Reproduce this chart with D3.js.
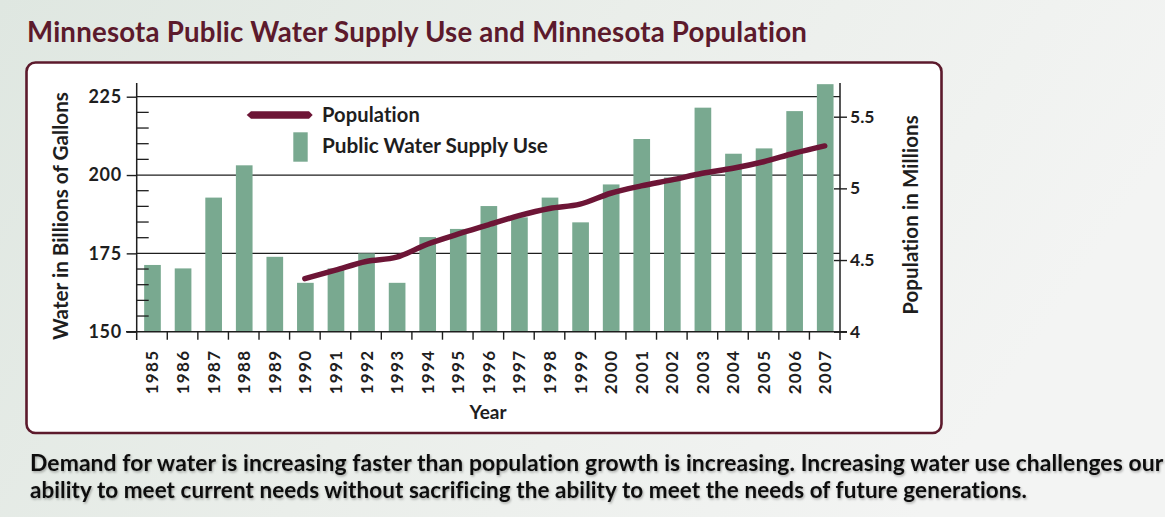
<!DOCTYPE html>
<html>
<head>
<meta charset="utf-8">
<script src="https://cdn.jsdelivr.net/npm/d3@7/dist/d3.min.js"></script>
<style>
  html, body { margin: 0; padding: 0; background: #e9eee9; }
  svg { display: block; }
  text { font-family: Lato, "Open Sans", "DejaVu Sans", sans-serif; font-variant-ligatures: none; font-feature-settings: "liga" 0, "clig" 0; }
</style>
</head>
<body>
<svg id="chart" width="1165" height="517"></svg>
<script>
// ---- data ----
const years = ["1985","1986","1987","1988","1989","1990","1991","1992","1993","1994","1995","1996",
               "1997","1998","1999","2000","2001","2002","2003","2004","2005","2006","2007"];
// public water supply use, billions of gallons
const waterUse = [171.3, 170.2, 192.8, 203.1, 173.9, 165.6, 170.2, 175.0, 165.6, 180.2, 182.8, 190.1,
                  186.5, 192.8, 184.9, 197.0, 211.5, 199.2, 221.5, 206.8, 208.5, 220.4, 229.0];
// population, millions
const popYears = ["1990","1991","1992","1993","1994","1995","1996","1997","1998","1999","2000",
                  "2001","2002","2003","2004","2005","2006","2007"];
const population = [4.37, 4.43, 4.49, 4.52, 4.61, 4.68, 4.745, 4.81, 4.86, 4.89, 4.966,
                    5.017, 5.059, 5.105, 5.14, 5.186, 5.245, 5.296];
const leftTicks = [150, 175, 200, 225];
const leftMinor = d3.range(150, 230, 5);
const rightTicks = [4, 4.5, 5, 5.5];

const titleText = "Minnesota Public Water Supply Use and Minnesota Population";
const captionLines = [
  "Demand for water is increasing faster than population growth is increasing. Increasing water use challenges our",
  "ability to meet current needs without sacrificing the ability to meet the needs of future generations."
];

// ---- styles ----
const maroon = "#5c1a2c";
const lineColor = "#6d1536";
const barColor = "#79a990";
const ink = "#1e1e1e";

const svg = d3.select("#chart");
const defs = svg.append("defs");

const bg = defs.append("linearGradient").attr("id", "bg").attr("x1", 0).attr("y1", 0).attr("x2", 1).attr("y2", 0.3);
bg.append("stop").attr("offset", 0).attr("stop-color", "#dfe7e1");
bg.append("stop").attr("offset", 0.5).attr("stop-color", "#eaeeea");
bg.append("stop").attr("offset", 1).attr("stop-color", "#f3f4f3");

const shadow = defs.append("filter").attr("id", "soft").attr("x", "-5%").attr("y", "-30%").attr("width", "110%").attr("height", "160%");
shadow.append("feDropShadow").attr("dx", 1).attr("dy", 1.5).attr("stdDeviation", 1.2)
  .attr("flood-color", "#000").attr("flood-opacity", 0.3);

svg.append("rect").attr("width", 1165).attr("height", 517).attr("fill", "url(#bg)");

// fit a text element to a given width by adjusting its font size
function fitWidth(sel, target) {
  const node = sel.node();
  const size = parseFloat(sel.attr("font-size"));
  const w = node.getComputedTextLength();
  sel.attr("font-size", (size * target / w).toFixed(2));
}

// ---- title ----
const title = svg.append("text")
  .attr("x", 27).attr("y", 42)
  .attr("font-size", 26).attr("font-weight", 700)
  .attr("letter-spacing", 0.2)
  .attr("fill", maroon)
  .text(titleText);
fitWidth(title, 781);

// ---- panel ----
svg.append("rect")
  .attr("x", 26.5).attr("y", 62.5).attr("width", 915).attr("height", 370.5)
  .attr("rx", 9).attr("ry", 9)
  .attr("fill", "#ffffff").attr("stroke", maroon).attr("stroke-width", 2.6);

// ---- scales ----
const x = d3.scaleBand().domain(years).range([136.7, 840]).padding(0);
const yL = d3.scaleLinear().domain([150, 225]).range([331.7, 96.7]);
const yR = d3.scaleLinear().domain([4, 5.5]).range([331.7, 116.7]);
const barW = x.bandwidth() * 0.545;

// gridlines at major left ticks
svg.append("g").selectAll("line").data(leftTicks.filter(d => d > 150)).join("line")
  .attr("x1", x.range()[0]).attr("x2", x.range()[1])
  .attr("y1", d => yL(d)).attr("y2", d => yL(d))
  .attr("stroke", ink).attr("stroke-width", 1.3);

// bars
svg.append("g").selectAll("rect").data(years).join("rect")
  .attr("x", (d, i) => x(d) + (x.bandwidth() - barW) / 2 + 0.5)
  .attr("width", barW)
  .attr("y", (d, i) => yL(waterUse[i]))
  .attr("height", (d, i) => yL(150) - yL(waterUse[i]))
  .attr("fill", barColor);

// ---- left axis ----
const gL = svg.append("g").attr("transform", `translate(${x.range()[0]},0)`);
gL.call(d3.axisLeft(yL).tickValues(leftTicks).tickSize(10).tickPadding(5).tickFormat(d3.format("d")));
gL.select(".domain").remove();
gL.append("line").attr("x1", 0).attr("x2", 0).attr("y1", 83).attr("y2", 340)
  .attr("stroke", ink).attr("stroke-width", 1.5);
gL.selectAll(".tick line").attr("stroke", ink).attr("stroke-width", 1.4);
gL.selectAll(".tick text").attr("font-size", 18).attr("font-weight", 700).attr("fill", ink)
  .attr("font-family", "Lato, sans-serif").attr("letter-spacing", 0.6);
// minor ticks pointing into the plot
gL.append("g").selectAll("line").data(leftMinor.filter(d => d % 25 !== 0)).join("line")
  .attr("x1", 0).attr("x2", 12).attr("y1", d => yL(d)).attr("y2", d => yL(d))
  .attr("stroke", ink).attr("stroke-width", 1.3);

// ---- right axis ----
const gR = svg.append("g").attr("transform", `translate(${x.range()[1]},0)`);
gR.call(d3.axisRight(yR).tickValues(rightTicks).tickSize(7).tickPadding(3).tickFormat(d => d));
gR.select(".domain").remove();
gR.append("line").attr("x1", 0).attr("x2", 0).attr("y1", 83).attr("y2", 340)
  .attr("stroke", ink).attr("stroke-width", 1.5);
gR.selectAll(".tick line").attr("x1", -6).attr("stroke", ink).attr("stroke-width", 1.4);
gR.selectAll(".tick text").attr("font-size", 17.5).attr("font-weight", 700).attr("fill", ink)
  .attr("font-family", "Lato, sans-serif");

// ---- bottom axis ----
const gB = svg.append("g").attr("transform", `translate(0,${yL(150)})`);
gB.append("line").attr("x1", 126).attr("x2", 847).attr("y1", 0).attr("y2", 0)
  .attr("stroke", ink).attr("stroke-width", 1.5);
gB.append("g").selectAll("line").data(years.slice(1)).join("line")
  .attr("x1", d => x(d)).attr("x2", d => x(d)).attr("y1", 0).attr("y2", 8)
  .attr("stroke", ink).attr("stroke-width", 1.4);
gB.append("g").selectAll("text").data(years).join("text")
  .attr("transform", d => `translate(${x(d) + x.bandwidth() / 2 + 6.5},18) rotate(-90)`)
  .attr("text-anchor", "end")
  .attr("font-size", 17).attr("font-weight", 700).attr("fill", ink)
  .attr("letter-spacing", 1.3)
  .text(d => d);

// axis titles
const xTitle = svg.append("text").attr("x", 488).attr("y", 419).attr("text-anchor", "middle")
  .attr("font-size", 18).attr("font-weight", 700).attr("fill", ink).text("Year");
fitWidth(xTitle, 37);

const yTitleL = svg.append("text")
  .attr("transform", "translate(68,216) rotate(-90)").attr("text-anchor", "middle")
  .attr("font-size", 18).attr("font-weight", 700).attr("fill", ink)
  .text("Water in Billions of Gallons");
fitWidth(yTitleL, 248);

const yTitleR = svg.append("text")
  .attr("transform", "translate(918,215) rotate(-90)").attr("text-anchor", "middle")
  .attr("font-size", 18).attr("font-weight", 700).attr("fill", ink)
  .attr("letter-spacing", 0.1)
  .text("Population in Millions");
fitWidth(yTitleR, 200);

// ---- population line ----
const line = d3.line()
  .x((d, i) => x(popYears[i]) + x.bandwidth() / 2)
  .y(d => yR(d))
  .curve(d3.curveMonotoneX);
svg.append("path").datum(population)
  .attr("d", line)
  .attr("fill", "none").attr("stroke", lineColor)
  .attr("stroke-width", 5.5).attr("stroke-linecap", "round").attr("stroke-linejoin", "round");

// ---- legend ----
const lg = svg.append("g");
lg.append("polygon")
  .attr("points", "246.7,115 251,111.3 309,111.3 312.7,115 309,118.7 251,118.7")
  .attr("fill", lineColor);
lg.append("rect").attr("x", 293.3).attr("y", 132.3).attr("width", 14.4).attr("height", 29.4).attr("fill", barColor);
const l1 = lg.append("text").attr("x", 322).attr("y", 122).attr("font-size", 18).attr("font-weight", 700)
  .attr("letter-spacing", 0.1)
  .attr("fill", ink).text("Population");
fitWidth(l1, 98);
const l2 = lg.append("text").attr("x", 322).attr("y", 153).attr("font-size", 18).attr("font-weight", 700)
  .attr("fill", ink).text("Public Water Supply Use");
fitWidth(l2, 226);

// ---- caption ----
const cap = svg.append("g").attr("filter", "url(#soft)");
const capTargets = [1135, 998];
captionLines.forEach((t, i) => {
  const c = cap.append("text").attr("x", 30).attr("y", 471 + i * 27)
    .attr("font-size", 21).attr("font-weight", 700).attr("letter-spacing", 0.1)
    .attr("fill", "#111").text(t);
  fitWidth(c, capTargets[i]);
});
</script>
</body>
</html>
